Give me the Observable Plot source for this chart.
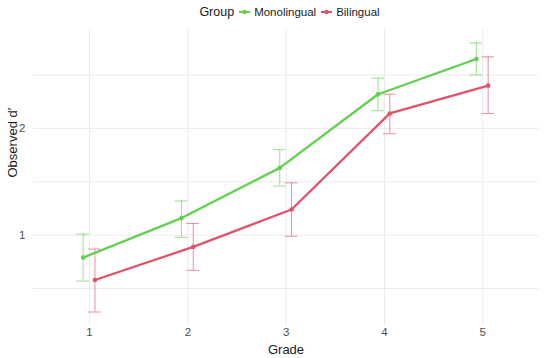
<!DOCTYPE html>
<html>
<head>
<meta charset="utf-8">
<script src="https://cdn.jsdelivr.net/npm/d3@7"></script>
<script src="https://cdn.jsdelivr.net/npm/@observablehq/plot@0.6"></script>
<style>
  body { margin: 0; background: #fff; font-family: "Liberation Sans", Arial, Helvetica, sans-serif; }
  #legend { height: 24px; display: flex; justify-content: center; align-items: center; color: #1a1a1a; padding-left: 34px; box-sizing: border-box; }
  #legend .title { font-size: 12.5px; margin-right: 5px; }
  #legend .item { display: flex; align-items: center; margin-right: 5px; font-size: 11.5px; }
  #legend svg { margin-right: 4px; }
</style>
</head>
<body>
<div id="legend"></div>
<div id="chart"></div>
<script>
const grades = [1, 2, 3, 4, 5];
const groups = ["Monolingual", "Bilingual"];
const colors = ["#61D04F", "#DF536B"];
const monoMean = [0.79, 1.16, 1.63, 2.32, 2.65];
const monoLow  = [0.57, 0.98, 1.46, 2.165, 2.50];
const monoHigh = [1.01, 1.32, 1.80, 2.47, 2.80];
const biMean = [0.58, 0.89, 1.24, 2.14, 2.40];
const biLow  = [0.28, 0.67, 0.99, 1.95, 2.14];
const biHigh = [0.87, 1.11, 1.49, 2.32, 2.67];
const yTicks = [1, 2];
const yGrid = [0.5, 1, 1.5, 2, 2.5];

const dodge = {Monolingual: -0.065, Bilingual: 0.055};
const cap = 0.065;
const data = [];
grades.forEach((g, i) => {
  data.push({grade: g, group: "Monolingual", x: g + dodge.Monolingual, mean: monoMean[i], low: monoLow[i], high: monoHigh[i]});
});
grades.forEach((g, i) => {
  data.push({grade: g, group: "Bilingual", x: g + dodge.Bilingual, mean: biMean[i], low: biLow[i], high: biHigh[i]});
});
const capRows = data.flatMap(d => [{x1: d.x - cap, x2: d.x + cap, y: d.low, group: d.group}, {x1: d.x - cap, x2: d.x + cap, y: d.high, group: d.group}]);

// legend
const leg = document.getElementById("legend");
leg.innerHTML = `<span class="title">Group</span>` + groups.map((g, i) =>
  `<span class="item"><svg width="11" height="10"><line x1="0" x2="11" y1="5" y2="5" stroke="${colors[i]}" stroke-width="2"/><circle cx="5.5" cy="5" r="2.2" fill="${colors[i]}"/></svg>${g}</span>`).join("");

const chart = Plot.plot({
  width: 550,
  height: 334,
  marginLeft: 33,
  marginRight: 12,
  marginTop: 5,
  marginBottom: 33,
  style: {fontFamily: "Liberation Sans, Arial, Helvetica, sans-serif", fontSize: "11px", background: "#fff"},
  x: {domain: [0.43, 5.567], label: null},
  y: {domain: [0.154, 2.926], label: null},
  color: {domain: groups, range: colors},
  marks: [
    Plot.gridY(yGrid, {stroke: "#ebebeb", strokeOpacity: 1, strokeWidth: 1}),
    Plot.gridX(grades, {stroke: "#ebebeb", strokeOpacity: 1, strokeWidth: 1}),
    Plot.axisX(grades, {tickSize: 0, tickPadding: 2, fill: "#4d4d4d", fontSize: 11.5, tickFormat: d3.format("d"), label: null}),
    Plot.axisY(yTicks, {tickSize: 0, tickPadding: 8, fill: "#4d4d4d", fontSize: 11.5, tickFormat: d3.format("d"), label: null}),
    Plot.ruleX(data, {x: "x", y1: "low", y2: "high", stroke: "group", strokeWidth: 1, strokeOpacity: 0.65}),
    Plot.ruleY(capRows, {x1: "x1", x2: "x2", y: "y", stroke: "group", strokeWidth: 1, strokeOpacity: 0.65}),
    Plot.line(data, {x: "x", y: "mean", z: "group", stroke: "group", strokeWidth: 2.3}),
    Plot.dot(data, {x: "x", y: "mean", fill: "group", r: 2.3}),
    Plot.text(["Grade"], {frameAnchor: "bottom", dy: 28, fontSize: 13, fill: "#1a1a1a"}),
    Plot.text(["Observed d\u2032"], {frameAnchor: "left", dx: -21, rotate: -90, fontSize: 13, fill: "#1a1a1a"})
  ]
});
document.getElementById("chart").appendChild(chart);
</script>
</body>
</html>
